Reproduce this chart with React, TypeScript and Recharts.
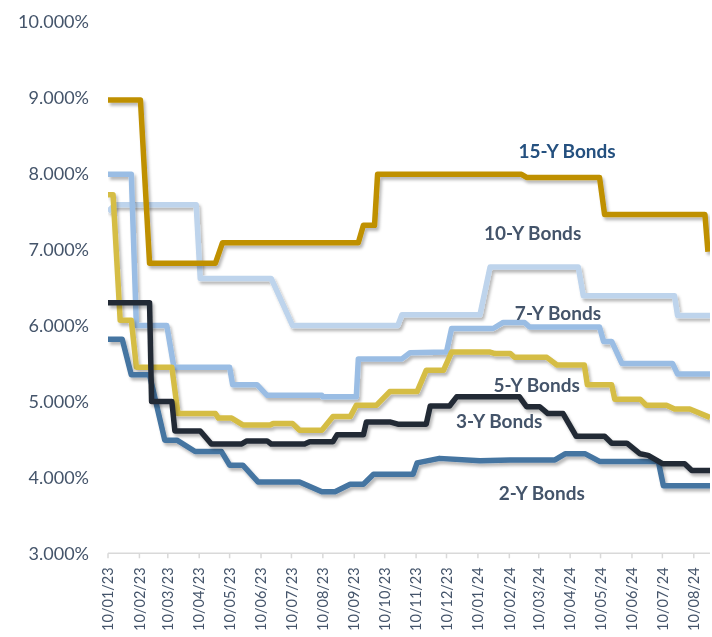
import React from "react";
import { LineChart, Line, XAxis, YAxis, ReferenceDot } from "recharts";

// x values are days counted from 10/01/23 (dd/mm/yy)
const tickLabels = [
  "10/01/23", "10/02/23", "10/03/23", "10/04/23", "10/05/23", "10/06/23", "10/07/23",
  "10/08/23", "10/09/23", "10/10/23", "10/11/23", "10/12/23", "10/01/24", "10/02/24",
  "10/03/24", "10/04/24", "10/05/24", "10/06/24", "10/07/24", "10/08/24",
];
const yTicks = [3, 4, 5, 6, 7, 8, 9, 10];
const lastDay = 594;

const bonds15: [number, number][] = [
  [0, 8.97], [32, 8.97], [41, 6.82], [106, 6.82], [113, 7.09], [247, 7.09], [252, 7.32],
  [263, 7.32], [266, 7.99], [408, 7.99], [413, 7.95], [485, 7.95], [490, 7.46], [589, 7.46],
  [592, 6.97],
];
const bonds10: [number, number][] = [
  [0, 7.5], [7, 7.59], [87, 7.59], [91, 6.62], [161, 6.62], [182, 6.0], [286, 6.0],
  [290, 6.14], [367, 6.14], [377, 6.77], [464, 6.77], [469, 6.39], [559, 6.39], [562, 6.13],
  [594, 6.13],
];
const bonds7: [number, number][] = [
  [0, 7.99], [23, 7.99], [28, 6.0], [58, 6.0], [65, 5.45], [120, 5.45], [123, 5.22],
  [147, 5.22], [157, 5.08], [211, 5.08], [212, 5.06], [245, 5.06], [247, 5.56], [290, 5.56],
  [298, 5.64], [334, 5.65], [339, 5.96], [380, 5.96], [390, 6.04], [411, 6.04], [416, 5.98],
  [485, 5.98], [489, 5.79], [497, 5.79], [507, 5.5], [557, 5.5], [562, 5.36], [594, 5.36],
];
const bonds5: [number, number][] = [
  [0, 7.72], [5, 7.72], [12, 6.07], [23, 6.07], [28, 5.45], [63, 5.45], [69, 4.84],
  [106, 4.84], [109, 4.78], [122, 4.78], [133, 4.69], [160, 4.69], [163, 4.71], [182, 4.71],
  [189, 4.62], [211, 4.62], [222, 4.8], [239, 4.8], [245, 4.95], [265, 4.95], [278, 5.13],
  [305, 5.13], [314, 5.41], [331, 5.41], [339, 5.65], [377, 5.65], [382, 5.63], [397, 5.63],
  [401, 5.58], [433, 5.58], [443, 5.48], [470, 5.48], [473, 5.22], [497, 5.22], [500, 5.03],
  [525, 5.03], [531, 4.95], [551, 4.95], [559, 4.9], [574, 4.9], [592, 4.8], [594, 4.79],
];
const bonds3: [number, number][] = [
  [0, 6.3], [41, 6.3], [43, 5.0], [63, 5.0], [66, 4.61], [91, 4.61], [102, 4.44],
  [132, 4.44], [137, 4.48], [157, 4.48], [161, 4.44], [194, 4.44], [199, 4.47], [222, 4.47],
  [226, 4.56], [252, 4.56], [255, 4.73], [278, 4.73], [286, 4.7], [314, 4.7], [318, 4.94],
  [337, 4.94], [344, 5.06], [406, 5.06], [413, 4.93], [426, 4.93], [434, 4.84], [449, 4.84],
  [462, 4.54], [490, 4.54], [497, 4.45], [512, 4.45], [525, 4.31], [533, 4.29], [547, 4.18],
  [569, 4.18], [576, 4.09], [594, 4.09],
];
const bonds2: [number, number][] = [
  [0, 5.82], [14, 5.82], [23, 5.35], [41, 5.35], [56, 4.49], [68, 4.49], [86, 4.34],
  [112, 4.34], [120, 4.16], [133, 4.16], [148, 3.94], [189, 3.94], [211, 3.81], [224, 3.81],
  [239, 3.91], [252, 3.91], [262, 4.04], [301, 4.04], [305, 4.19], [327, 4.25], [367, 4.22],
  [397, 4.23], [441, 4.23], [451, 4.31], [471, 4.31], [485, 4.21], [543, 4.21], [548, 3.89],
  [594, 3.89],
];

const series = [
  { name: "10-Y Bonds", points: bonds10, color: "#BED4EC", label: [419, 7.215] },
  { name: "7-Y Bonds", points: bonds7, color: "#9ABDE4", label: [444, 6.16] },
  { name: "5-Y Bonds", points: bonds5, color: "#D5BD45", label: [423, 5.217] },
  { name: "2-Y Bonds", points: bonds2, color: "#4574A1", label: [428, 3.79] },
  { name: "3-Y Bonds", points: bonds3, color: "#222A35", label: [386, 4.74] },
  { name: "15-Y Bonds", points: bonds15, color: "#BF9000", label: [453, 8.297] },
];

const toDay = (s: string) => {
  const [d, m, y] = s.split("/").map(Number);
  return Math.round((Date.UTC(2000 + y, m - 1, d) - Date.UTC(2023, 0, 10)) / 86400000);
};
const tickDays = tickLabels.map(toDay);

const textColor = "#44546A";

const XTick = (props: any) => {
  const { x, y, payload } = props;
  const label = tickLabels[tickDays.indexOf(payload.value)] ?? "";
  return (
    <text
      x={x}
      y={y + 7}
      transform={`rotate(-90, ${x}, ${y + 7})`}
      textAnchor="end"
      dy="0.36em"
      fill={textColor}
      fontSize={14.5}
      fontFamily="Lato, sans-serif"
    >
      {label}
    </text>
  );
};

export default function App() {
  return (
    <div style={{ position: "fixed", left: 0, top: 0, width: 712, height: 637 }}>
      <LineChart
        width={712}
        height={637}
        margin={{ top: 21.7, right: 2, bottom: 0, left: 0 }}
      >
        <defs>
          <filter id="lineShadow" filterUnits="userSpaceOnUse" x="0" y="0" width="712" height="637">
            <feDropShadow dx="2" dy="3" stdDeviation="1.6" floodColor="#000" floodOpacity="0.28" />
          </filter>
        </defs>
        <XAxis
          type="number"
          dataKey="day"
          domain={[0, lastDay]}
          ticks={tickDays}
          interval={0}
          height={83.7}
          stroke="#D9D9D9"
          strokeWidth={1.5}
          tickSize={5}
          tick={<XTick />}
          allowDataOverflow
        />
        <YAxis
          type="number"
          domain={[3, 10]}
          ticks={yTicks}
          width={108}
          axisLine={false}
          tickLine={false}
          tickSize={0}
          tickMargin={19}
          tickFormatter={(v: number) => `${v.toFixed(3)}%`}
          tick={{ fill: textColor, fontSize: 18, fontFamily: "Lato, sans-serif" }}
        />
        {series.map((s) => (
          <Line
            key={s.name}
            data={s.points.map(([day, v]) => ({ day, v }))}
            dataKey="v"
            type="linear"
            stroke={s.color}
            strokeWidth={5.5}
            strokeLinejoin="round"
            dot={false}
            activeDot={false}
            filter="url(#lineShadow)"
            isAnimationActive={false}
          />
        ))}
        {series.map((s) => (
          <ReferenceDot
            key={`lbl-${s.name}`}
            x={s.label[0]}
            y={s.label[1]}
            r={0}
            fill="none"
            stroke="none"
            label={{
              value: s.name,
              position: "center",
              fill: s.name === "15-Y Bonds" ? "#24507F" : textColor,
              fontSize: 19,
              fontWeight: 700,
              fontFamily: "Lato, sans-serif",
            }}
          />
        ))}
      </LineChart>
    </div>
  );
}
